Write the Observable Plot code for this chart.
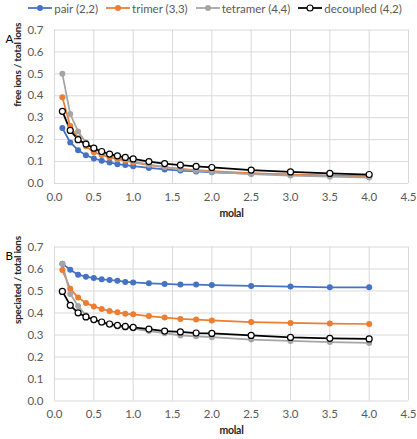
<!DOCTYPE html>
<html><head><meta charset="utf-8">
<script src="https://cdn.jsdelivr.net/npm/d3@7"></script>
<script src="https://cdn.jsdelivr.net/npm/@observablehq/plot@0.6"></script>
<style>
body{margin:0;background:#fff;font-family:Lato,"Open Sans",sans-serif;}
#legend{height:16px;display:flex;justify-content:center;align-items:center;gap:7px;font-size:11.5px;color:#595959;padding-left:12px;}
#legend .item{display:flex;align-items:center;gap:1px;}
svg{display:block;}
g[font-weight="bold"] text{letter-spacing:-0.25px;}
</style></head><body>
<div id="legend"></div><div id="a"></div><div id="b"></div>
<script>
const molal = [0.1,0.2,0.3,0.4,0.5,0.6,0.7,0.8,0.9,1.0,1.2,1.4,1.6,1.8,2.0,2.5,3.0,3.5,4.0];
const seriesNames = ["pair (2,2)","trimer (3,3)","tetramer (4,4)","decoupled (4,2)"];
const seriesColors = ["#4472C4","#ED7D31","#A5A5A5","#000000"];
// Panel A: free ions / total ions
const pairA      = [0.253,0.187,0.152,0.129,0.114,0.104,0.096,0.088,0.084,0.079,0.071,0.064,0.059,0.055,0.051,0.045,0.040,0.036,0.033];
const trimerA    = [0.393,0.262,0.207,0.170,0.142,0.130,0.119,0.111,0.104,0.096,0.084,0.075,0.067,0.061,0.056,0.047,0.040,0.035,0.031];
const tetramerA  = [0.500,0.317,0.237,0.187,0.157,0.139,0.130,0.119,0.111,0.101,0.086,0.075,0.066,0.059,0.053,0.043,0.036,0.031,0.027];
const decoupledA = [0.329,0.242,0.200,0.180,0.161,0.146,0.134,0.126,0.119,0.112,0.100,0.091,0.084,0.078,0.073,0.061,0.053,0.046,0.041];
// Panel B: speciated / total ions
const pairB      = [0.624,0.597,0.574,0.565,0.559,0.553,0.550,0.547,0.541,0.539,0.535,0.532,0.529,0.529,0.527,0.523,0.520,0.517,0.517];
const trimerB    = [0.595,0.510,0.471,0.445,0.430,0.418,0.409,0.403,0.397,0.394,0.386,0.379,0.373,0.370,0.366,0.359,0.355,0.352,0.350];
const tetramerB  = [0.624,0.486,0.432,0.390,0.368,0.355,0.345,0.339,0.333,0.329,0.318,0.308,0.298,0.294,0.290,0.279,0.273,0.268,0.264];
const decoupledB = [0.498,0.435,0.401,0.382,0.370,0.359,0.350,0.344,0.339,0.335,0.327,0.318,0.314,0.309,0.307,0.298,0.289,0.285,0.282];
const xTicks = [0,0.5,1,1.5,2,2.5,3,3.5,4,4.5];
const yTicks = [0,0.1,0.2,0.3,0.4,0.5,0.6,0.7];

function rows(arrs){
  const out=[];
  arrs.forEach((arr,i)=>arr.forEach((v,j)=>out.push({s:seriesNames[i],x:molal[j],y:v})));
  return out;
}

// legend
const leg=document.getElementById("legend");
seriesNames.forEach((n,i)=>{
  const it=document.createElement("div");it.className="item";
  const c=seriesColors[i];
  const open=i===3;
  it.innerHTML=`<svg width="26" height="10"><line x1="1" x2="25" y1="5" y2="5" stroke="${c}" stroke-width="1.75"/><circle cx="13" cy="5" r="3" fill="${open?'#fff':c}" stroke="${c}" stroke-width="${open?1.2:0}"/></svg><span>${n}</span>`;
  leg.appendChild(it);
});

function panel(data, ylabel, letter, height, mb){
  const color={domain:seriesNames,range:seriesColors};
  const filled=data.filter(d=>d.s!==seriesNames[3]);
  const open=data.filter(d=>d.s===seriesNames[3]);
  return Plot.plot({
    width:417,height,marginLeft:54,marginRight:9,marginTop:13.5,marginBottom:mb,
    style:{fontFamily:"Lato, 'Open Sans', sans-serif",fontSize:"11.5px",color:"#595959",background:"#fff"},
    x:{domain:[0,4.5],label:null},
    y:{domain:[0,0.7],label:null},
    color,
    marks:[
      Plot.gridX(xTicks,{stroke:"#d9d9d9",strokeOpacity:1}),
      Plot.gridY(yTicks,{stroke:"#d9d9d9",strokeOpacity:1}),
      Plot.axisX({ticks:xTicks,tickFormat:d=>d.toFixed(1),tickSize:0,tickPadding:9,fill:"#595959",label:null}),
      Plot.axisY({ticks:yTicks,tickFormat:d=>d.toFixed(1),tickSize:0,tickPadding:11,fill:"#595959",label:null}),
      Plot.line(data,{x:"x",y:"y",z:"s",stroke:"s",strokeWidth:1.75}),
      Plot.dot(filled,{x:"x",y:"y",r:3,fill:"s"}),
      Plot.dot(open,{x:"x",y:"y",r:3,fill:"#fff",stroke:"#000",strokeWidth:1.2}),
      Plot.text([letter],{frameAnchor:"top-left",dx:-49,dy:5,text:d=>d,fill:"#000",fontSize:11.5,textAnchor:"start"}),
      Plot.text([ylabel],{frameAnchor:"left",dx:-37,rotate:-90,text:d=>d,fill:"#262626",fontWeight:"bold",fontSize:10}),
      Plot.text(["molal"],{frameAnchor:"bottom",dy:33,text:d=>d,fill:"#262626",fontWeight:"bold",fontSize:10.5})
    ]
  });
}
document.getElementById("a").appendChild(panel(rows([pairA,trimerA,tetramerA,decoupledA]),"free ions / total ions","A",217,50));
document.getElementById("b").appendChild(panel(rows([pairB,trimerB,tetramerB,decoupledB]),"speciated / total ions","B",206,38.5));
</script>
</body></html>
